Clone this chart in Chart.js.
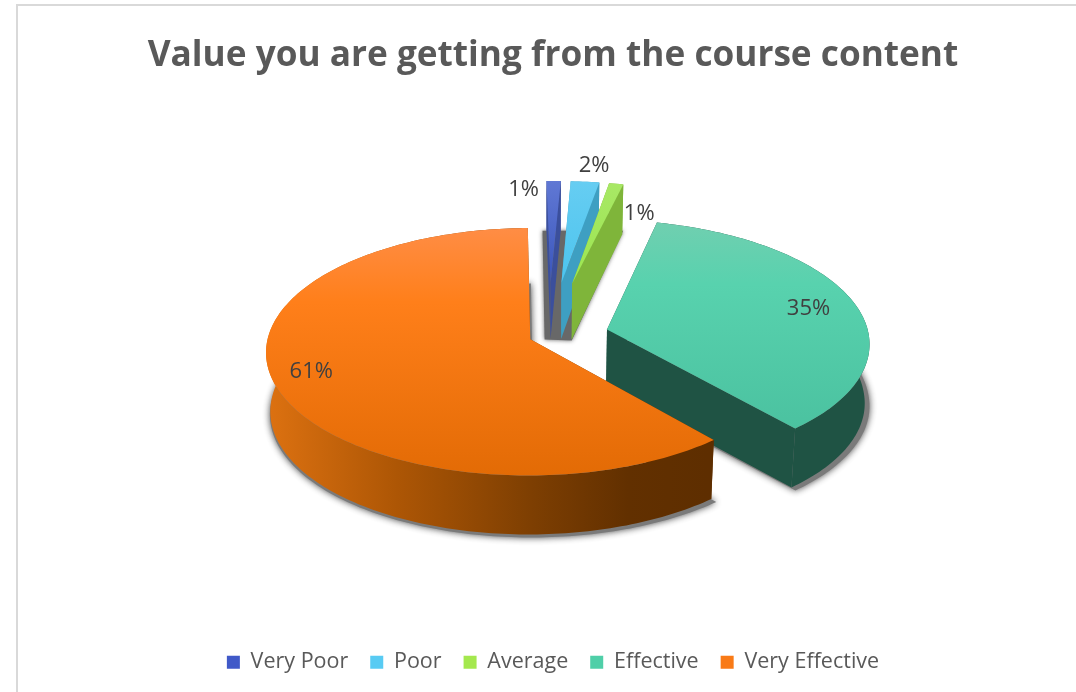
<!DOCTYPE html>
<html><head><meta charset="utf-8">
<style>
html,body{margin:0;padding:0;background:#fff;overflow:hidden}
#frame{position:absolute;left:16px;top:4px;width:1060px;height:688px;border-top:2.5px solid #d9d9d9;border-left:2.5px solid #d9d9d9;box-sizing:border-box}
canvas{position:absolute;left:0;top:0}
</style>
<script src="https://cdn.jsdelivr.net/npm/chart.js@4"></script>
</head><body><div id="frame"></div><canvas id="c" width="1076" height="692"></canvas>
<script>
const chartTitle = 'Value you are getting from the course content';
const categories = ['Very Poor','Poor','Average','Effective','Very Effective'];
const percentages = [1,2,1,35,61];
const legendColors = ['#4059c8','#58cbf3','#a4e84e','#4fcfa8','#f97a16'];
const explosion = [120,120,120,60,20];
const topStops = [
  ['#6078d4','#3a55bb'],['#66cdf2','#4cc4ee'],['#a8e865','#9ce650'],
  ['#70cfb0','#4bc2a0'],['#ff8d45','#e36b05']];
const wallColors = ['#3b4f9c','#3e9fc2','#7fb53a','#1f5344',null];
const labelAnchor = [1,1,1,0.7,0.9];
const labelNudge = [[-30,9],[9,-16],[23,30],[28,-1],[10,-8]];

const view = {cx:549, cy:336, g:0.465, b:0.10, depth:59};
function project(u,v,R){const w=1+view.b*v/R;return {x:view.cx+u/w,y:view.cy-view.g*v/w};}
function toBottom(p){const d=view.depth*(1-Math.max(0,view.cy-p.y)/1000);return {x:view.cx+(p.x-view.cx)*0.985,y:p.y+d};}
function slice(el){
  const p=el.getProps(['startAngle','endAngle','outerRadius'],true);
  const off=el.options.offset||0, mid=(p.startAngle+p.endAngle)/2, R=p.outerRadius;
  const ou=off*Math.cos(mid), ov=-off*Math.sin(mid);
  const at=(a,r)=>project(ou+r*Math.cos(a),ov-r*Math.sin(a),R);
  const rim=[];const n=Math.max(4,Math.ceil((p.endAngle-p.startAngle)/0.02));
  for(let i=0;i<=n;i++)rim.push(at(p.startAngle+(p.endAngle-p.startAngle)*i/n,R));
  return {apex:at(mid,0),rim,mid,R,at};
}
function poly(ctx,pts,fill){ctx.beginPath();pts.forEach((q,i)=>i?ctx.lineTo(q.x,q.y):ctx.moveTo(q.x,q.y));ctx.closePath();ctx.fillStyle=fill;ctx.fill();}
const pie3d={id:'pie3d',
  beforeDatasetsDraw(chart){
    const ctx=chart.ctx, meta=chart.getDatasetMeta(0);
    const S=meta.data.map(slice);
    ctx.save();
    ctx.save();ctx.shadowColor='rgba(60,60,60,.8)';ctx.shadowBlur=4;
    const a=toBottom(S[0].rim[0]),b=toBottom(S[2].rim[S[2].rim.length-1]),c=toBottom(S[2].apex),d=toBottom(S[0].apex);
    poly(ctx,[{x:a.x-4,y:Math.min(a.y,b.y)},{x:b.x+1,y:Math.min(a.y,b.y)},{x:c.x,y:c.y+1},{x:d.x-6,y:d.y+1}],'#686868');
    ctx.restore();
    S.forEach((s,i)=>{
      const rimB=s.rim.map(toBottom), apB=toBottom(s.apex), last=s.rim.length-1;
      if(i>2){
        ctx.save();ctx.shadowColor='rgba(50,50,50,.9)';ctx.shadowBlur=7;
        const pts=[apB,...rimB].map(q=>({x:view.cx+(q.x-view.cx)*1.012+(i===4?3:1),y:q.y+3}));
        poly(ctx,pts,'#7a7a7a');ctx.restore();
      }
      let wall=wallColors[i];
      if(!wall){
        const g=ctx.createLinearGradient(264,0,708,0);
        g.addColorStop(0,'#de7211');g.addColorStop(.3,'#ad5605');g.addColorStop(.6,'#7e3f02');g.addColorStop(.82,'#623000');g.addColorStop(1,'#5e2e00');
        wall=g;
      }
      poly(ctx,[...s.rim,...rimB.slice().reverse()],wall);
      poly(ctx,[s.apex,s.rim[0],rimB[0],apB],wall);
      poly(ctx,[s.apex,s.rim[last],rimB[last],apB],wall);
      const top=[s.apex,...s.rim];
      const ys=top.map(q=>q.y),g=ctx.createLinearGradient(0,Math.min(...ys),0,Math.max(...ys));
      g.addColorStop(0,topStops[i][0]);
      if(i===4)g.addColorStop(.3,'#ff7f1a');
      if(i===3)g.addColorStop(.3,'#58d2ae');
      g.addColorStop(1,topStops[i][1]);
      poly(ctx,top,g);
    });
    ctx.restore();
    return false;
  },
  afterDraw(chart){
    const ctx=chart.ctx, meta=chart.getDatasetMeta(0);
    ctx.save();ctx.font='22px "Open Sans"';ctx.fillStyle='#404040';ctx.textAlign='center';ctx.textBaseline='middle';
    meta.data.forEach((el,i)=>{
      const s=slice(el), q=s.at(s.mid,labelAnchor[i]*s.R);
      ctx.fillText(percentages[i]+'%',q.x+labelNudge[i][0],q.y+labelNudge[i][1]);
    });
    ctx.restore();
  }
};
new Chart(document.getElementById('c'),{
  type:'pie',
  data:{labels:categories,datasets:[{data:percentages,backgroundColor:legendColors,borderWidth:0,offset:explosion}]},
  options:{
    responsive:false,animation:false,radius:262,rotation:-1,
    layout:{padding:{left:30,right:0,top:35,bottom:9}},
    plugins:{
      tooltip:{enabled:false},
      title:{display:true,text:chartTitle,color:'#595959',font:{family:'"Open Sans"',size:35.2,weight:'bold'},padding:{top:0,bottom:10}},
      legend:{position:'bottom',labels:{boxWidth:13,boxHeight:13,padding:22,color:'#595959',font:{family:'"Open Sans"',size:21.5}}}
    }
  },
  plugins:[pie3d]
});
</script></body></html>
